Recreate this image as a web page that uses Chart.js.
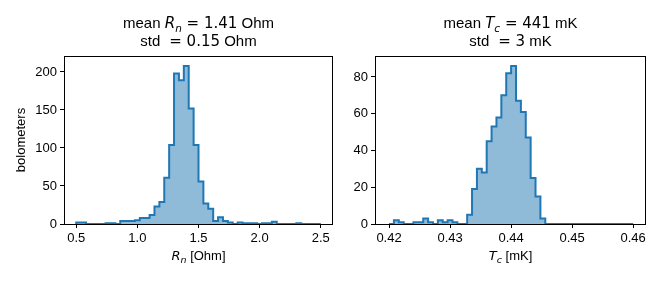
<!DOCTYPE html>
<html>
<head>
<meta charset="utf-8">
<script src="https://cdn.jsdelivr.net/npm/chart.js@4.4.1/dist/chart.umd.min.js"></script>
<style>
  body { margin: 0; background: #fff; }
  #wrap { position: relative; width: 664px; height: 285px; }
  canvas { position: absolute; top: 0; }
</style>
</head>
<body>
<div id="wrap">
  <canvas id="rn" width="340" height="285" style="left:0;width:340px;height:285px"></canvas>
  <canvas id="tc" width="324" height="285" style="left:340px;width:324px;height:285px"></canvas>
</div>
<script>
// histogram of normal resistance, 50 bins between 0.5 and 2.5 Ohm
const rnRange = [0.5, 2.5];
const rnCounts = [0, 2, 2, 0, 0, 0, 0, 1, 1, 0,
                  4, 4, 4, 5, 8, 8, 12, 23, 29, 61,
                  104, 198, 189, 208, 152, 104, 56, 27, 20, 4,
                  9, 4, 2, 0, 2, 1, 1, 1, 0, 1,
                  1, 3, 0, 0, 0, 0, 1, 0, 0, 0];
const rnXTicks = [0.5, 1.0, 1.5, 2.0, 2.5];
const rnYTicks = [0, 50, 100, 150, 200];

// histogram of critical temperature, 50 bins between 0.42 and 0.46
const tcRange = [0.42, 0.46];
const tcCounts = [0, 0, 2, 1, 0, 0, 1, 1, 3, 1,
                  0, 2, 1, 2, 1, 0, 0, 5, 19, 30,
                  28, 45, 53, 58, 70, 82, 86, 67, 61, 47,
                  25, 15, 3, 0, 0, 0, 0, 0, 0, 0,
                  0, 0, 0, 0, 0, 0, 0, 0, 0, 0];
const tcXTicks = [0.42, 0.43, 0.44, 0.45, 0.46];
const tcYTicks = [0, 20, 40, 60, 80];

const BLUE = '#1f77b4';
const N = '15px "Liberation Sans"', M = '15px "DejaVu Sans"';
const I = 'italic 15px "DejaVu Sans"', S = 'italic 10.5px "DejaVu Sans"';
const N12 = '13px "Liberation Sans"', I12 = 'italic 13px "DejaVu Sans"', S12 = 'italic 9.5px "DejaVu Sans"';

// step outline points: closed down to zero on both ends
function stepPoints(range, counts) {
  const w = (range[1] - range[0]) / counts.length;
  const pts = [{x: range[0], y: 0}];
  counts.forEach((c, i) => pts.push({x: range[0] + i * w, y: c}));
  pts.push({x: range[1], y: counts[counts.length - 1]});
  pts.push({x: range[1], y: 0});
  return pts;
}

function drawRich(ctx, parts, cx, cy) {
  let w = 0;
  parts.forEach(p => { ctx.font = p[1]; w += ctx.measureText(p[0]).width; });
  let x = cx - w / 2;
  ctx.textBaseline = 'alphabetic';
  ctx.textAlign = 'left';
  parts.forEach(p => {
    ctx.font = p[1];
    ctx.fillText(p[0], x, cy + (p[2] || 0));
    x += ctx.measureText(p[0]).width;
  });
}

const decor = {
  id: 'decor',
  afterDraw(chart, args, opts) {
    const {ctx, chartArea: a} = chart;
    ctx.save();
    ctx.strokeStyle = '#000';
    ctx.lineWidth = 1;
    ctx.strokeRect(Math.round(a.left) + 0.5, Math.round(a.top) + 0.5,
                   Math.round(a.right - a.left) - 1, Math.round(a.bottom - a.top));
    ctx.fillStyle = '#000';
    const cx = (a.left + a.right) / 2;
    drawRich(ctx, opts.title[0], cx, 28);
    drawRich(ctx, opts.title[1], cx, 46);
    drawRich(ctx, opts.xlabel, cx, 260);
    if (opts.ylabel) {
      ctx.translate(25, (a.top + a.bottom) / 2);
      ctx.rotate(-Math.PI / 2);
      ctx.font = N12;
      ctx.textAlign = 'center';
      ctx.textBaseline = 'alphabetic';
      ctx.fillText(opts.ylabel, 0, 0);
    }
    ctx.restore();
  }
};

function makeHist(id, range, counts, xTicks, yTicks, xMin, xMax, yMax, leftW, rightPad, digits, deco) {
  return new Chart(document.getElementById(id), {
    type: 'line',
    data: {
      datasets: [{
        data: stepPoints(range, counts),
        stepped: 'after',
        borderColor: BLUE,
        borderWidth: 2,
        backgroundColor: 'rgba(31,119,180,0.5)',
        fill: 'origin',
        pointRadius: 0,
        clip: false
      }]
    },
    options: {
      responsive: false,
      animation: false,
      layout: {padding: {top: 56, left: 0, right: rightPad, bottom: 0}},
      plugins: {legend: {display: false}, tooltip: {enabled: false}, decor: deco},
      scales: {
        x: {
          type: 'linear', min: xMin, max: xMax,
          afterBuildTicks: s => { s.ticks = xTicks.map(v => ({value: v})); },
          afterFit: s => { s.height = 61; },
          border: {display: false},
          grid: {drawOnChartArea: false, drawTicks: true, tickLength: 4, color: '#000', tickWidth: 1},
          ticks: {color: '#000', padding: 3, font: {family: 'Liberation Sans', size: 13},
                  maxRotation: 0, callback: v => v.toFixed(digits)}
        },
        y: {
          min: 0, max: yMax,
          afterBuildTicks: s => { s.ticks = yTicks.map(v => ({value: v})); },
          afterFit: s => { s.width = leftW; },
          border: {display: false},
          grid: {drawOnChartArea: false, drawTicks: true, tickLength: 4, color: '#000', tickWidth: 1},
          ticks: {color: '#000', padding: 3, font: {family: 'Liberation Sans', size: 13}}
        }
      }
    },
    plugins: [decor]
  });
}

makeHist('rn', rnRange, rnCounts, rnXTicks, rnYTicks, 0.4, 2.6, 221, 64, 7, 1, {
  title: [[['mean ', N], ['R', I], ['n', S, 4], [' = 1.41', M], [' Ohm', N]],
          [['std ', N], [' = 0.15', M], [' Ohm', N]]],
  xlabel: [['R', I12], ['n', S12, 3], [' [Ohm]', N12]],
  ylabel: 'bolometers'
});

makeHist('tc', tcRange, tcCounts, tcXTicks, tcYTicks, 0.4177, 0.4621, 91.4, 35, 18, 2, {
  title: [[['mean ', N], ['T', I], ['c', S, 4], [' = 441', M], [' mK', N]],
          [['std ', N], [' = 3', M], [' mK', N]]],
  xlabel: [['T', I12], ['c', S12, 3], [' [mK]', N12]]
});
</script>
</body>
</html>
